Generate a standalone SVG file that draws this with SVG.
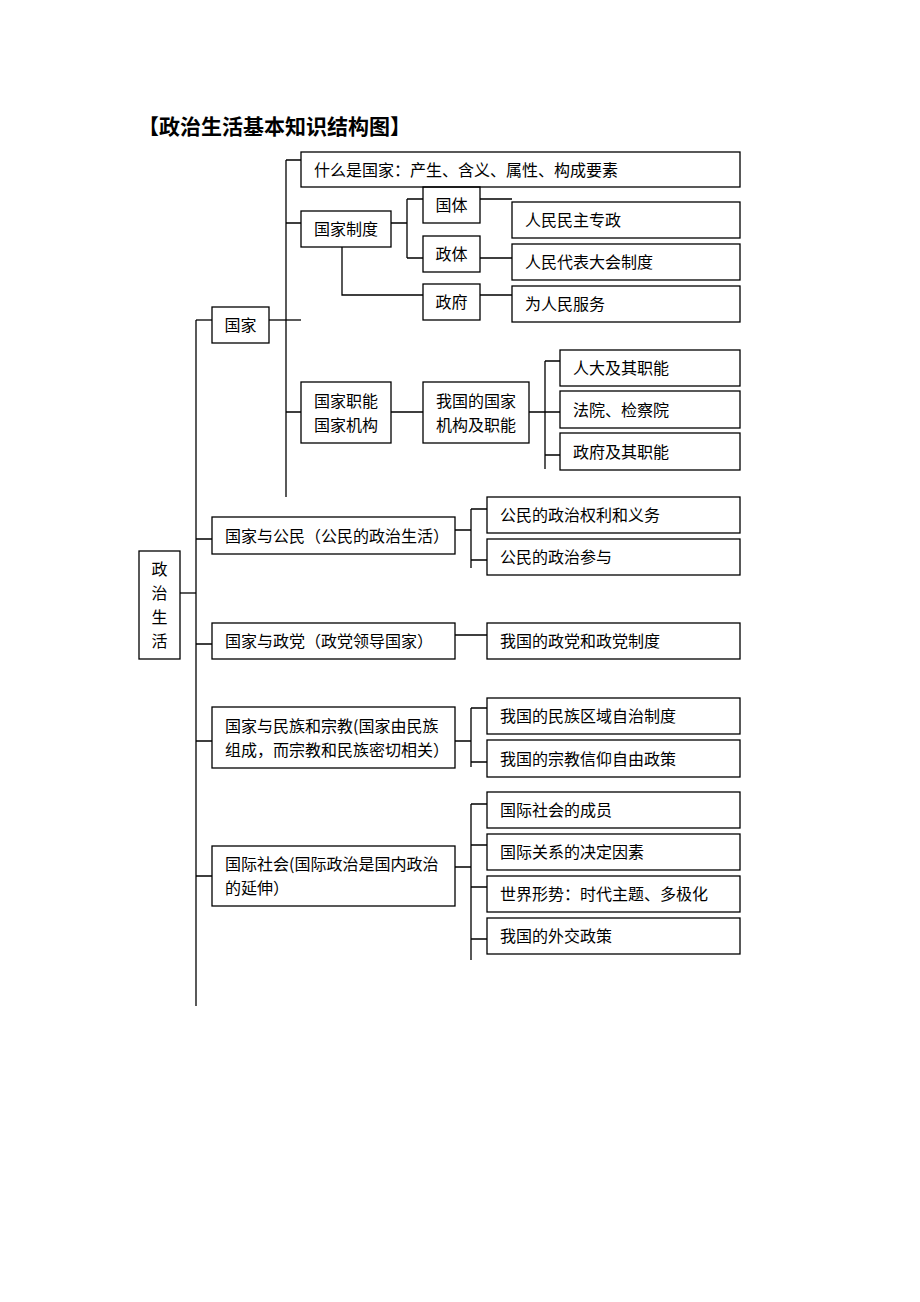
<svg xmlns="http://www.w3.org/2000/svg" width="920" height="1302" viewBox="0 0 920 1302">
<style>
.bx{fill:none;stroke:#000;stroke-width:1.3}
.ln{fill:none;stroke:#000;stroke-width:1.3}
.t{font-family:"Noto Sans CJK SC","Liberation Sans",sans-serif;font-size:16px;fill:#000}
.c{text-anchor:middle}
.ttl{font-family:"Noto Sans CJK SC","Liberation Sans",sans-serif;font-size:21px;font-weight:bold;fill:#000}
</style>
<rect x="0" y="0" width="920" height="1302" fill="#fff"/>
<text class="ttl" x="138" y="134">【政治生活基本知识结构图】</text>
<g id="connectors">
<path class="ln" d="M196 320V1006"/>
<path class="ln" d="M180 593H196"/>
<path class="ln" d="M196 320H212"/>
<path class="ln" d="M269 320H301"/>
<path class="ln" d="M286 160V497"/>
<path class="ln" d="M286 160H301M286 223H301M286 412H301"/>
<path class="ln" d="M391 223H407M407 199V258M407 199H423M407 258H423"/>
<path class="ln" d="M480 199H512M480 258H512M480 295H512"/>
<path class="ln" d="M342 247V295H423"/>
<path class="ln" d="M391 412H423M529 412H545M545 361V469M545 361H560M545 412H560M545 455H560"/>
<path class="ln" d="M196 539H212M455 530H471M471 509V568M471 509H487M471 560H487"/>
<path class="ln" d="M196 644H212M455 635H487"/>
<path class="ln" d="M196 741H212M455 741H471M471 708V767M471 708H487M471 762H487"/>
<path class="ln" d="M196 876H212M455 867H471M471 804V960M471 804H487M471 845H487M471 887H487M471 939H487"/>
</g>
<g id="n-root"><rect class="bx" x="139" y="551" width="41" height="108"/>
<text class="t c" x="159.5" y="575">政</text><text class="t c" x="159.5" y="599">治</text><text class="t c" x="159.5" y="623">生</text><text class="t c" x="159.5" y="647">活</text></g>
<g id="n-guojia"><rect class="bx" x="212" y="307" width="57" height="36"/><text class="t c" x="240.5" y="331">国家</text></g>
<g id="n-shenme"><rect class="bx" x="301" y="152" width="439" height="35"/><text class="t" x="314" y="175.5">什么是国家：产生、含义、属性、构成要素</text></g>
<g id="n-zhidu"><rect class="bx" x="301" y="211" width="90" height="36"/><text class="t c" x="346" y="235">国家制度</text></g>
<g id="n-guoti"><rect class="bx" x="423" y="187" width="57" height="36"/><text class="t c" x="451.5" y="211">国体</text></g>
<g id="n-zhengti"><rect class="bx" x="423" y="236" width="57" height="36"/><text class="t c" x="451.5" y="260">政体</text></g>
<g id="n-zhengfu"><rect class="bx" x="423" y="284" width="57" height="36"/><text class="t c" x="451.5" y="308">政府</text></g>
<g id="n-rmmz"><rect class="bx" x="512" y="202" width="228" height="36"/><text class="t" x="525" y="226">人民民主专政</text></g>
<g id="n-rmdb"><rect class="bx" x="512" y="244" width="228" height="36"/><text class="t" x="525" y="268">人民代表大会制度</text></g>
<g id="n-wrm"><rect class="bx" x="512" y="286" width="228" height="36"/><text class="t" x="525" y="310">为人民服务</text></g>
<g id="n-zhineng"><rect class="bx" x="301" y="382" width="90" height="61"/><text class="t c" x="346" y="407">国家职能</text><text class="t c" x="346" y="431">国家机构</text></g>
<g id="n-jigou"><rect class="bx" x="423" y="382" width="106" height="61"/><text class="t c" x="476" y="407">我国的国家</text><text class="t c" x="476" y="431">机构及职能</text></g>
<g id="n-renda"><rect class="bx" x="560" y="350" width="180" height="36"/><text class="t" x="573" y="374">人大及其职能</text></g>
<g id="n-fayuan"><rect class="bx" x="560" y="391" width="180" height="37"/><text class="t" x="573" y="415.5">法院、检察院</text></g>
<g id="n-zfzn"><rect class="bx" x="560" y="433" width="180" height="37"/><text class="t" x="573" y="457.5">政府及其职能</text></g>
<g id="n-gongmin"><rect class="bx" x="212" y="517" width="243" height="37"/><text class="t" x="225" y="541.5">国家与公民（公民的政治生活）</text></g>
<g id="n-quanli"><rect class="bx" x="487" y="497" width="253" height="36"/><text class="t" x="500" y="521">公民的政治权利和义务</text></g>
<g id="n-canyu"><rect class="bx" x="487" y="539" width="253" height="36"/><text class="t" x="500" y="563">公民的政治参与</text></g>
<g id="n-zhengdang"><rect class="bx" x="212" y="623" width="243" height="36"/><text class="t" x="225" y="647">国家与政党（政党领导国家）</text></g>
<g id="n-zdzd"><rect class="bx" x="487" y="623" width="253" height="36"/><text class="t" x="500" y="647">我国的政党和政党制度</text></g>
<g id="n-minzu"><rect class="bx" x="212" y="707" width="243" height="61"/><text class="t" x="225" y="732">国家与民族和宗教(国家由民族</text><text class="t" x="225" y="756">组成，而宗教和民族密切相关）</text></g>
<g id="n-qyzz"><rect class="bx" x="487" y="698" width="253" height="36"/><text class="t" x="500" y="722">我国的民族区域自治制度</text></g>
<g id="n-zjxy"><rect class="bx" x="487" y="740" width="253" height="37"/><text class="t" x="500" y="764.5">我国的宗教信仰自由政策</text></g>
<g id="n-guoji"><rect class="bx" x="212" y="846" width="243" height="60"/><text class="t" x="225" y="870">国际社会(国际政治是国内政治</text><text class="t" x="225" y="894">的延伸）</text></g>
<g id="n-chengyuan"><rect class="bx" x="487" y="792" width="253" height="36"/><text class="t" x="500" y="816">国际社会的成员</text></g>
<g id="n-yinsu"><rect class="bx" x="487" y="834" width="253" height="36"/><text class="t" x="500" y="858">国际关系的决定因素</text></g>
<g id="n-xingshi"><rect class="bx" x="487" y="876" width="253" height="36"/><text class="t" x="500" y="900">世界形势：时代主题、多极化</text></g>
<g id="n-waijiao"><rect class="bx" x="487" y="918" width="253" height="36"/><text class="t" x="500" y="942">我国的外交政策</text></g>
</svg>
